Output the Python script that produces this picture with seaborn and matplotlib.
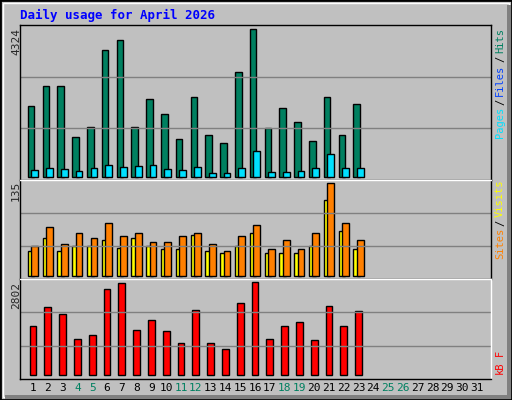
import matplotlib
matplotlib.use("Agg")
import matplotlib.pyplot as plt
import seaborn as sns
import numpy as np
from matplotlib.patches import Rectangle

days = list(range(1, 24))
hits = [2064, 2651, 2651, 1154, 1448, 3708, 4001, 1448, 2270, 1829, 1096, 2328,
        1213, 978, 3062, 4324, 1418, 2005, 1595, 1037, 2328, 1213, 2123]
pages = [186, 245, 215, 157, 245, 333, 274, 303, 333, 215, 186, 274,
         98, 98, 245, 743, 127, 127, 157, 245, 655, 245, 245]
visits = [44, 71, 46, 62, 55, 77, 58, 63, 50, 50, 58, 62,
          47, 36, 58, 74, 39, 52, 39, 62, 135, 77, 52]
sites = [36, 55, 36, 44, 44, 52, 41, 55, 43, 40, 39, 60,
         36, 33, 44, 63, 33, 33, 33, 44, 110, 65, 39]
kbytes = [1483, 2035, 1851, 1084, 1207, 2587, 2771, 1360, 1667, 1329, 961, 1943,
          961, 777, 2158, 2802, 1084, 1483, 1605, 1053, 2066, 1483, 1913]
all_days = list(range(1, 32))
weekend = [4, 5, 11, 12, 18, 19, 25, 26]

sns.set_style("white")
mono = "DejaVu Sans Mono"
W, H = 512, 400
fig = plt.figure(figsize=(W / 100, H / 100), dpi=100)
fig.patch.set_facecolor("#C0C0C0")

def px_axes(x0, y0, x1, y1):
    return fig.add_axes([x0 / W, 1 - y1 / H, (x1 - x0) / W, (y1 - y0) / H])

def style(ax, top, base_frac):
    ax.set_facecolor("#C0C0C0")
    ax.set_xlim(0.12, 31.95)
    ax.set_ylim(-top * base_frac, top * 1.03)
    for f in (1 / 3, 2 / 3):
        ax.plot([0, 1], [f, f], transform=ax.transAxes, color="#808080", lw=1)
    ax.set_xticks([]); ax.set_yticks([])
    ax.set_xlabel(""); ax.set_ylabel("")
    for s in ax.spines.values():
        s.set_color("black"); s.set_linewidth(1)

def bars(ax, off, vals, color):
    sns.barplot(x=np.array(days) + off, y=vals, native_scale=True, width=0.45,
                color=color, edgecolor="black", linewidth=1, saturation=1, ax=ax)

# top panel: hits / pages
ax1 = px_axes(20, 25, 491, 180)
bars(ax1, -0.13, hits, "#008060")
bars(ax1, 0.11, pages, "#00E0FF")
style(ax1, max(hits), 0.022)

# middle panel: sites / visits
ax2 = px_axes(20, 180, 491, 279)
bars(ax2, -0.13, sites, "#FFFF00")
bars(ax2, 0.11, visits, "#FF8000")
style(ax2, max(visits), 0.03)

# bottom panel: kB
ax3 = px_axes(20, 279, 491, 379)
bars(ax3, 0.0, kbytes, "#FF0000")
style(ax3, max(kbytes), 0.04)
ax3.spines["right"].set_color("white")
ax3.spines["top"].set_color("white")
ax2.spines["top"].set_color("white")
ax3.set_xticks(all_days)
ax3.set_xticklabels([str(d) for d in all_days], fontfamily=mono, fontsize=8)
ax3.tick_params(axis="x", length=0, pad=3)
for lbl, d in zip(ax3.get_xticklabels(), all_days):
    lbl.set_color("#008060" if d in weekend else "black")

def ftext(x, y, s, **kw):
    fig.text(x / W, 1 - y / H, s, fontfamily=mono, **kw)

ftext(20, 15, "Daily usage for April 2026", color="#0000FF", fontsize=9,
      fontweight="bold", va="center")
ftext(16, 28, "4324", rotation=90, va="top", ha="center", fontsize=8)
ftext(16, 181, "135", rotation=90, va="top", ha="center", fontsize=8)
ftext(16, 282, "2802", rotation=90, va="top", ha="center", fontsize=8)

for txt, y, c in [("Hits", 28, "#008060"), ("/", 56, "black"), ("Files", 65, "#0040FF"),
                  ("/", 99, "black"), ("Pages", 107, "#00E0FF"),
                  ("Visits", 180, "#FFFF00"), ("/", 220, "black"), ("Sites", 228, "#FF8000"),
                  ("F", 350, "#FF0000"), ("kB", 362, "#FF0000")]:
    ftext(500, y, txt, rotation=90, va="top", ha="center", color=c, fontsize=7.5)

# 3D-ish frame
fig.add_artist(Rectangle((0, 0), 1, 1, transform=fig.transFigure, fill=False,
                         edgecolor="black", lw=2))
fig.add_artist(Rectangle((3 / W, 3 / H), 1 - 6 / W, 1 - 6 / H, transform=fig.transFigure,
                         fill=False, edgecolor="white", lw=1))
fig.add_artist(Rectangle((5 / W, 1 / H), 1 - 6 / W, 4 / H, transform=fig.transFigure,
                         color="#808080", lw=0))
fig.add_artist(Rectangle((1 - 5 / W, 1 / H), 4 / W, 1 - 6 / H, transform=fig.transFigure,
                         color="#808080", lw=0))

fig.savefig("out.png", dpi=100, facecolor=fig.get_facecolor())
